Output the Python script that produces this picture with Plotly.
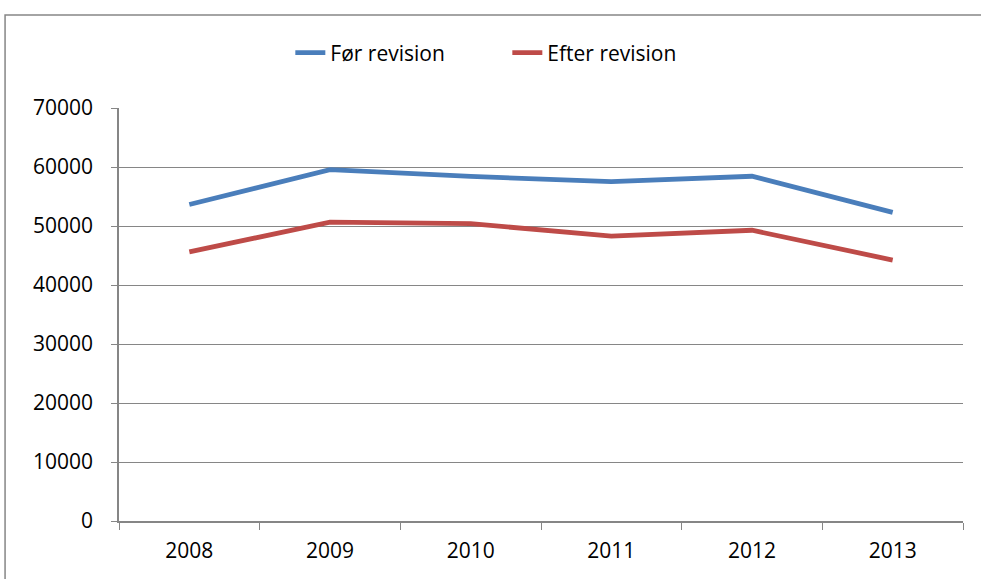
import plotly.graph_objects as go

years = ["2008", "2009", "2010", "2011", "2012", "2013"]
foer_revision = [53650, 59550, 58400, 57520, 58430, 52300]
efter_revision = [45600, 50670, 50400, 48270, 49280, 44230]
y_ticks = [0, 10000, 20000, 30000, 40000, 50000, 60000, 70000]
y_tick_labels = [str(v) for v in y_ticks]

font_family = "Open Sans, Liberation Sans, sans-serif"

fig = go.Figure()
fig.add_trace(go.Scatter(x=years, y=foer_revision, mode="lines", name="Før revision",
                         line=dict(color="#4A7EBB", width=4.8)))
fig.add_trace(go.Scatter(x=years, y=efter_revision, mode="lines", name="Efter revision",
                         line=dict(color="#BE4B48", width=4.8)))

fig.update_layout(
    width=981, height=579,
    margin=dict(l=119, r=18, t=108, b=58, autoexpand=False),
    paper_bgcolor="white", plot_bgcolor="white",
    font=dict(family=font_family, size=21, color="black"),
    legend=dict(orientation="h", x=0.203, xanchor="left", y=1.133, yanchor="middle",
                font=dict(size=21), bgcolor="rgba(0,0,0,0)",
                entrywidth=172, entrywidthmode="pixels"),
    showlegend=True,
)
fig.update_xaxes(
    type="category", range=[-0.5, 5.5], tickson="boundaries", ticks="outside", ticklen=7,
    tickcolor="#868686", showline=True, linecolor="#868686", linewidth=1.5,
    showgrid=False, tickfont=dict(size=21), automargin=False, ticklabelstandoff=10,
)
fig.update_yaxes(
    range=[0, 70000], tickvals=y_ticks, ticktext=y_tick_labels, ticks="outside", ticklen=6,
    tickcolor="#868686", showline=True, linecolor="#868686", linewidth=1.5,
    showgrid=True, gridcolor="#868686", gridwidth=1, zeroline=False,
    tickfont=dict(size=21), automargin=False, ticklabelstandoff=14,
)
fig.add_shape(type="rect", xref="paper", yref="paper",
              x0=-0.135, x1=1.1, y0=-0.3, y1=1.225,
              line=dict(color="#868686", width=1.5), layer="below")

fig.write_html("out.html", config={"displayModeBar": False},
               post_script="document.body.style.margin='0';")
